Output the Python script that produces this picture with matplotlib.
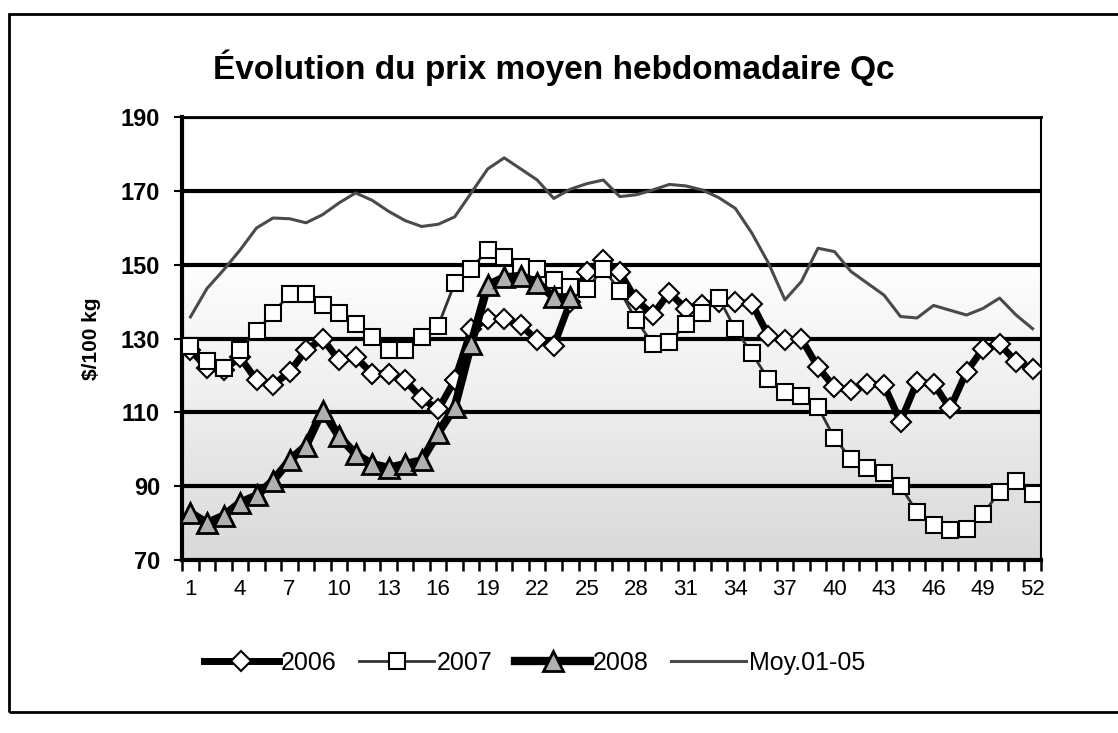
import numpy as np
import matplotlib
matplotlib.use("Agg")
from matplotlib import pyplot as plt
from matplotlib.patches import Rectangle

plt.rcParams['font.family'] = ['Liberation Sans', 'DejaVu Sans']

# weekly average price, $/100 kg
weeks = list(range(1, 53))
p2006 = [127, 122, 121.5, 125, 118.7, 117.4, 121, 126.9, 130, 124.1, 125, 120.5,
         120.5, 118.7, 113.8, 110.8, 118.7, 132.5, 135.4, 135.3, 133.6, 129.6, 128, 140,
         148, 151.3, 148, 140.4, 136.5, 142.5, 138.1, 139, 140, 139.9, 139.5, 130.8,
         129.5, 129.9, 122.3, 116.8, 116, 117.8, 117.4, 107.5, 118.3, 117.8, 111.1, 121,
         127.3, 128.6, 123.7, 121.9]
p2007 = [128, 124, 122, 127, 132, 137, 142, 142, 139, 137, 134, 130.5,
         127, 127, 130.5, 133.5, 145, 149, 154, 152, 149.5, 149, 146, 144,
         143.5, 149, 143, 135, 128.5, 129, 134, 137, 141, 132.5, 126, 119,
         115.5, 114.5, 111.5, 103, 97.5, 95, 93.5, 90, 83, 79.5, 78, 78.5,
         82.5, 88.5, 91.5, 88]
p2008 = [82.8, 80, 82, 85.5, 87.5, 91.5, 97, 101, 110.5, 103.5, 98.7, 96,
         95, 96, 97, 104.5, 111.4, 128.6, 144.5, 146.6, 147, 145.2, 141.2, 141.2]
moy = [135.9, 143.6, 148.6, 154, 160, 162.7, 162.5, 161.4, 163.6, 166.8, 169.5, 167.5,
       164.5, 162, 160.4, 161, 163, 169.5, 176, 179, 176, 173, 168, 170.5,
       172, 173, 168.5, 169, 170.3, 171.8, 171.4, 170.3, 168.2, 165.3, 158.6, 150.5,
       140.5, 145.5, 154.5, 153.6, 148.2, 145, 141.8, 136, 135.6, 139, 137.7, 136.4,
       138.2, 141, 136.4, 132.7]

fig = plt.figure(figsize=(11.18, 7.33), dpi=100)
ax = fig.add_axes([0.163, 0.236, 0.768, 0.604])

ax.set_xlim(0.5, 52.5)
ax.set_ylim(70, 190)

# shaded background, white on top, grey at the bottom
grad = np.linspace(0, 1, 200).reshape(-1, 1)
grad = np.clip((grad - 0.33) / 0.67, 0, 1) ** 0.8
ax.imshow(grad, extent=(0.5, 52.5, 70, 190), aspect='auto', origin='upper',
          cmap='Greys', vmin=0, vmax=4.0, zorder=0, interpolation='bilinear')

for yv in [90, 110, 130, 150, 170, 190]:
    ax.axhline(yv, color='black', lw=3, zorder=1)

ax.plot(weeks, p2006, color='black', lw=5, marker='D', markersize=10,
        markerfacecolor='white', markeredgecolor='black', markeredgewidth=1.5,
        zorder=3, label='2006')
ax.plot(weeks, p2007, color='#333333', lw=2, marker='s', markersize=12,
        markerfacecolor='white', markeredgecolor='black', markeredgewidth=1.5,
        zorder=3, label='2007')
ax.plot(weeks[:len(p2008)], p2008, color='black', lw=6, marker='^', markersize=14,
        markerfacecolor='#b0b0b0', markeredgecolor='black', markeredgewidth=2,
        zorder=4, label='2008')
ax.plot(weeks, moy, color='#4a4a4a', lw=2.2, zorder=2, label='Moy.01-05')

ax.set_yticks([70, 90, 110, 130, 150, 170, 190])
ax.tick_params(axis='y', labelsize=17, length=6, width=1.5, pad=10)
for t in ax.get_yticklabels():
    t.set_fontweight('bold')

ax.set_xticks(list(range(1, 53, 3)))
ax.set_xticks(np.arange(0.5, 53, 1), minor=True)
ax.tick_params(axis='x', which='major', length=0, labelsize=16, pad=14)
ax.tick_params(axis='x', which='minor', length=8, width=1.8, direction='out')

ax.spines['left'].set_linewidth(3)
ax.spines['bottom'].set_linewidth(3)
ax.spines['top'].set_linewidth(2)
ax.spines['right'].set_linewidth(1.5)

ax.set_ylabel(r'\$/100 kg', fontsize=15, fontweight='bold', labelpad=14)

fig.text(0.495, 0.907, 'Évolution du prix moyen hebdomadaire Qc', ha='center',
         va='center', fontsize=24, fontweight='bold')

ax.legend(loc='upper center', bbox_to_anchor=(0.41, -0.155), ncol=4, frameon=False,
          fontsize=18, handlelength=3, handletextpad=0.1, columnspacing=0.9)

fig.patches.append(Rectangle((0.008, 0.029), 1.2, 0.952, transform=fig.transFigure,
                             fill=False, edgecolor='black', lw=2))

fig.savefig('out.png', dpi=100)
